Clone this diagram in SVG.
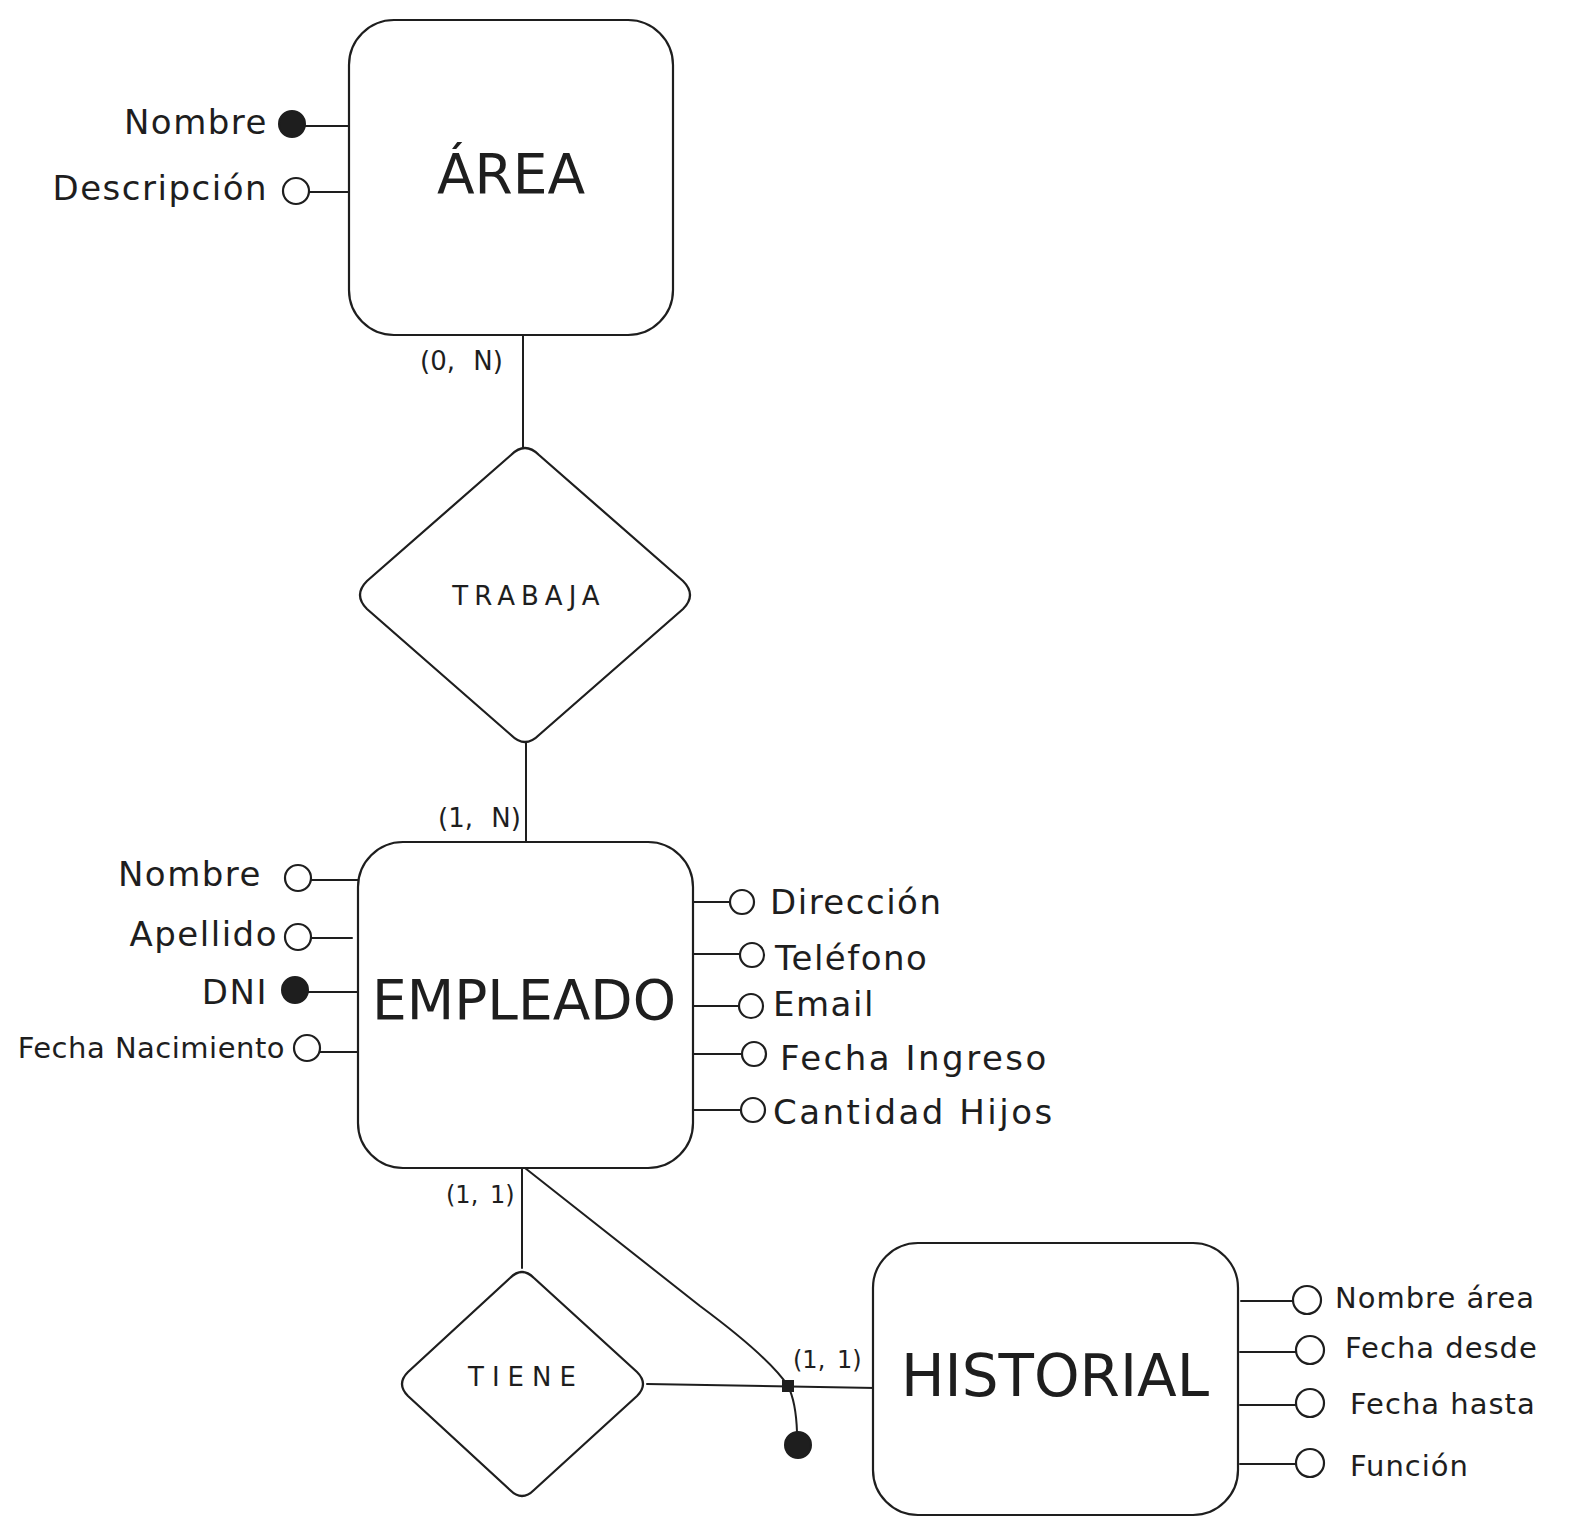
<svg xmlns="http://www.w3.org/2000/svg" width="1573" height="1539" viewBox="0 0 1573 1539">
<style>
.s{fill:none;stroke:#1e1e1e;stroke-width:2;stroke-linecap:round;stroke-linejoin:round}
.box{fill:#ffffff;stroke:#1e1e1e;stroke-width:2.2}
.oc{fill:#ffffff;stroke:#1e1e1e;stroke-width:2.2}
.fc{fill:#1e1e1e;stroke:#1e1e1e;stroke-width:2}
text{font-family:"DejaVu Sans","Liberation Sans",sans-serif;fill:#1e1e1e}
.big{font-size:55px;text-anchor:middle}
.rel{font-size:26px;letter-spacing:6px;text-anchor:middle}
.att{font-size:34px;letter-spacing:1.5px}
.sm{font-size:29px;letter-spacing:1px}
.card{font-size:26px;word-spacing:10px}
.card1{font-size:24px;word-spacing:4px}
.r{text-anchor:end}
</style>
<rect width="1573" height="1539" fill="#ffffff"/>
<g id="connectors">
<line class="s" x1="523" y1="335" x2="523" y2="447"/>
<line class="s" x1="526" y1="743" x2="526" y2="842"/>
<line class="s" x1="522" y1="1168" x2="522" y2="1268"/>
<path class="s" d="M525 1168 L700 1306 Q770 1358 788 1386"/>
<line class="s" x1="647" y1="1384" x2="876" y2="1388"/>
<path class="s" d="M788 1386 Q796 1402 797 1432"/>
<rect class="fc" x="783" y="1381" width="10" height="10"/>
<circle class="fc" cx="798" cy="1445" r="13"/>
<text class="card" x="420" y="370">(0, N)</text>
<text class="card" x="438" y="827">(1, N)</text>
<text class="card1" x="446" y="1203">(1, 1)</text>
<text class="card1" x="793" y="1368">(1, 1)</text>
</g>
<g id="area">
<rect class="box" x="349" y="20" width="324" height="315" rx="45"/>
<text class="big" x="511" y="193">ÁREA</text>
</g>
<g id="area-nombre">
<line class="s" x1="305" y1="126" x2="349" y2="126"/>
<circle class="fc" cx="292" cy="124" r="13"/>
<text class="att r" x="268" y="134">Nombre</text>
</g>
<g id="area-descripcion">
<line class="s" x1="309" y1="192" x2="349" y2="192"/>
<circle class="oc" cx="296" cy="191" r="13"/>
<text class="att r" x="268" y="200">Descripción</text>
</g>
<g id="trabaja">
<path class="box" d="M511 455 Q525 441 539 455 L683 581 Q697 595 683 609 L539 735 Q525 749 511 735 L367 609 Q353 595 367 581 Z"/>
<text class="rel" x="529" y="605">TRABAJA</text>
</g>
<g id="empleado">
<rect class="box" x="358" y="842" width="335" height="326" rx="45"/>
<text class="big" x="524" y="1019">EMPLEADO</text>
</g>
<g id="emp-nombre">
<line class="s" x1="311" y1="880" x2="358" y2="880"/>
<circle class="oc" cx="298" cy="878" r="13"/>
<text class="att r" x="262" y="886">Nombre</text>
</g>
<g id="emp-apellido">
<line class="s" x1="311" y1="938" x2="352" y2="938"/>
<circle class="oc" cx="298" cy="937" r="13"/>
<text class="att r" x="278" y="946">Apellido</text>
</g>
<g id="emp-dni">
<line class="s" x1="308" y1="992" x2="358" y2="992"/>
<circle class="fc" cx="295" cy="990" r="13"/>
<text class="att r" x="268" y="1004">DNI</text>
</g>
<g id="emp-fecha-nacimiento">
<line class="s" x1="320" y1="1052" x2="358" y2="1052"/>
<circle class="oc" cx="307" cy="1048" r="13"/>
<text class="sm r" x="285" y="1058" style="letter-spacing:0.5px">Fecha Nacimiento</text>
</g>
<g id="emp-direccion">
<line class="s" x1="693" y1="902" x2="730" y2="902"/>
<circle class="oc" cx="742" cy="902" r="12"/>
<text class="att" x="770" y="914">Dirección</text>
</g>
<g id="emp-telefono">
<line class="s" x1="693" y1="954" x2="740" y2="954"/>
<circle class="oc" cx="752" cy="955" r="12"/>
<text class="att" x="775" y="970">Teléfono</text>
</g>
<g id="emp-email">
<line class="s" x1="693" y1="1006" x2="739" y2="1006"/>
<circle class="oc" cx="751" cy="1006" r="12"/>
<text class="att" x="773" y="1016">Email</text>
</g>
<g id="emp-fecha-ingreso">
<line class="s" x1="693" y1="1054" x2="742" y2="1054"/>
<circle class="oc" cx="754" cy="1054" r="12"/>
<text class="att" x="780" y="1070" style="letter-spacing:2.5px">Fecha Ingreso</text>
</g>
<g id="emp-cantidad-hijos">
<line class="s" x1="693" y1="1110" x2="741" y2="1110"/>
<circle class="oc" cx="753" cy="1110" r="12"/>
<text class="att" x="773" y="1124" style="letter-spacing:2.5px">Cantidad Hijos</text>
</g>
<g id="tiene">
<path class="box" d="M510 1278 Q522 1266 534 1278 L637 1372 Q649 1384 637 1396 L534 1490 Q522 1502 510 1490 L408 1396 Q396 1384 408 1372 Z"/>
<text class="rel" x="526" y="1386" style="letter-spacing:8px">TIENE</text>
</g>
<g id="historial">
<rect class="box" x="873" y="1243" width="365" height="272" rx="45"/>
<text class="big" x="1055" y="1396" style="font-size:58px">HISTORIAL</text>
</g>
<g id="his-nombre-area">
<line class="s" x1="1241" y1="1301" x2="1293" y2="1301"/>
<circle class="oc" cx="1307" cy="1300" r="14"/>
<text class="sm" x="1335" y="1308">Nombre área</text>
</g>
<g id="his-fecha-desde">
<line class="s" x1="1240" y1="1352" x2="1296" y2="1352"/>
<circle class="oc" cx="1310" cy="1350" r="14"/>
<text class="sm" x="1345" y="1358">Fecha desde</text>
</g>
<g id="his-fecha-hasta">
<line class="s" x1="1240" y1="1405" x2="1296" y2="1405"/>
<circle class="oc" cx="1310" cy="1403" r="14"/>
<text class="sm" x="1350" y="1414">Fecha hasta</text>
</g>
<g id="his-funcion">
<line class="s" x1="1240" y1="1464" x2="1296" y2="1464"/>
<circle class="oc" cx="1310" cy="1463" r="14"/>
<text class="sm" x="1350" y="1476">Función</text>
</g>
</svg>
